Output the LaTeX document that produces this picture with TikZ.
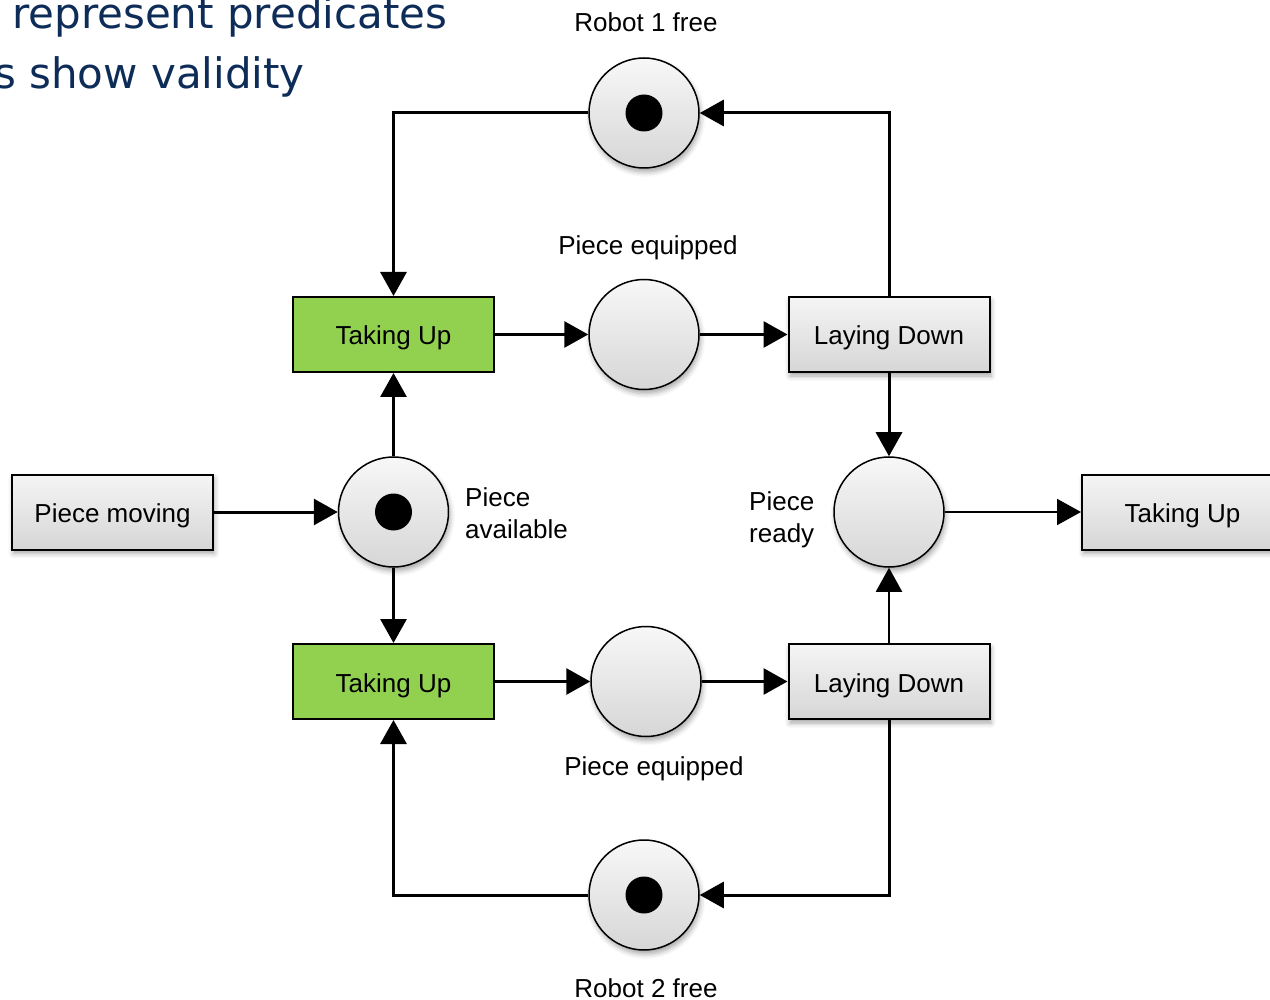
\documentclass[tikz,border=0pt]{standalone}
\usepackage{fontspec}
\setmainfont{Liberation Sans}
\newfontfamily\headfont{DejaVu Sans}
\usetikzlibrary{arrows.meta,shadows.blur}

\definecolor{headblue}{RGB}{14,44,88}
\definecolor{firegreen}{RGB}{146,208,80}

\begin{document}
\begin{tikzpicture}[x=1pt,y=-1pt,
  lbl/.style={font=\fontsize{26}{32}\selectfont, inner sep=0pt},
  softshadow/.style={blur shadow={shadow xshift=1.5pt, shadow yshift=-4pt,
      shadow blur radius=5pt, shadow opacity=35}},
  place/.style={circle, minimum size=110pt, inner sep=0pt, draw=black,
      line width=1.5pt, top color=gray!6, bottom color=gray!32, softshadow},
  trans/.style={rectangle, minimum width=201pt, minimum height=75pt,
      inner sep=0pt, draw=black, line width=2pt, text height=21pt, text depth=0pt,
      font=\fontsize{26}{32}\selectfont},
  greytrans/.style={trans, top color=gray!8, bottom color=gray!32, softshadow},
  greentrans/.style={trans, fill=firegreen},
  arr/.style={line width=3pt, -{Triangle[length=24pt,width=26pt]}},
  arrthin/.style={line width=2pt, -{Triangle[length=24pt,width=26pt]}},
  token/.style={fill=black}
]
\useasboundingbox (0,0) rectangle (1270,1000);

% heading lines
\node[anchor=base west, inner sep=0pt, text=headblue,
      font=\headfont\fontsize{42}{50}\selectfont] (head1) at (12,29) {represent predicates};
\node[anchor=base east, inner sep=0pt, text=headblue,
      font=\headfont\fontsize{42}{50}\selectfont] (head2) at (305,89) {s show validity};

% places
\node[place] (r1)  at (644,113)   {};
\node[place] (pe1) at (644,334.5) {};
\node[place] (pa)  at (393.5,512) {};
\node[place] (pr)  at (889,512)   {};
\node[place] (pe2) at (646,681.5) {};
\node[place] (r2)  at (644,895)   {};

% tokens
\fill[token] (r1) circle (18.5);
\fill[token] (pa) circle (18.5);
\fill[token] (r2) circle (18.5);

% transitions
\node[greentrans] (tu1) at (393.5,334.5) {Taking Up};
\node[greentrans] (tu2) at (393.5,681.5) {Taking Up};
\node[greytrans]  (ld1) at (889,334.5)   {Laying Down};
\node[greytrans]  (ld2) at (889,681.5)   {Laying Down};
\node[greytrans]  (pm)  at (112.5,512)   {Piece moving};
\node[greytrans]  (tu3) at (1182.5,512)  {Taking Up};

% place labels
\node[lbl, anchor=base] (lr1)  at (646,32)  {Robot 1 free};
\node[lbl, anchor=base] (lpe1) at (648,255) {Piece equipped};
\node[lbl, anchor=base west, align=left] (lpa) at (465,538) {Piece\\available};
\node[lbl, anchor=base west, align=left] (lpr) at (749,542) {Piece\\ready};
\node[lbl, anchor=base] (lpe2) at (654,775) {Piece equipped};
\node[lbl, anchor=base] (lr2)  at (646,997) {Robot 2 free};

% arcs
\draw[arr] (r1.west) -| (tu1.north);
\draw[arr] (ld1.north) |- (r1.east);
\draw[arr] (tu1) -- (pe1);
\draw[arr] (pe1) -- (ld1);
\draw[arr] (ld1) -- (pr);
\draw[arr] (pa) -- (tu1);
\draw[arr] (pm) -- (pa);
\draw[arr] (pa) -- (tu2);
\draw[arr] (tu2) -- (pe2);
\draw[arr] (pe2) -- (ld2);
\draw[arrthin] (ld2) -- (pr);
\draw[arrthin] (pr) -- (tu3);
\draw[arr] (ld2.south) |- (r2.east);
\draw[arr] (r2.west) -| (tu2.south);
\end{tikzpicture}
\end{document}
